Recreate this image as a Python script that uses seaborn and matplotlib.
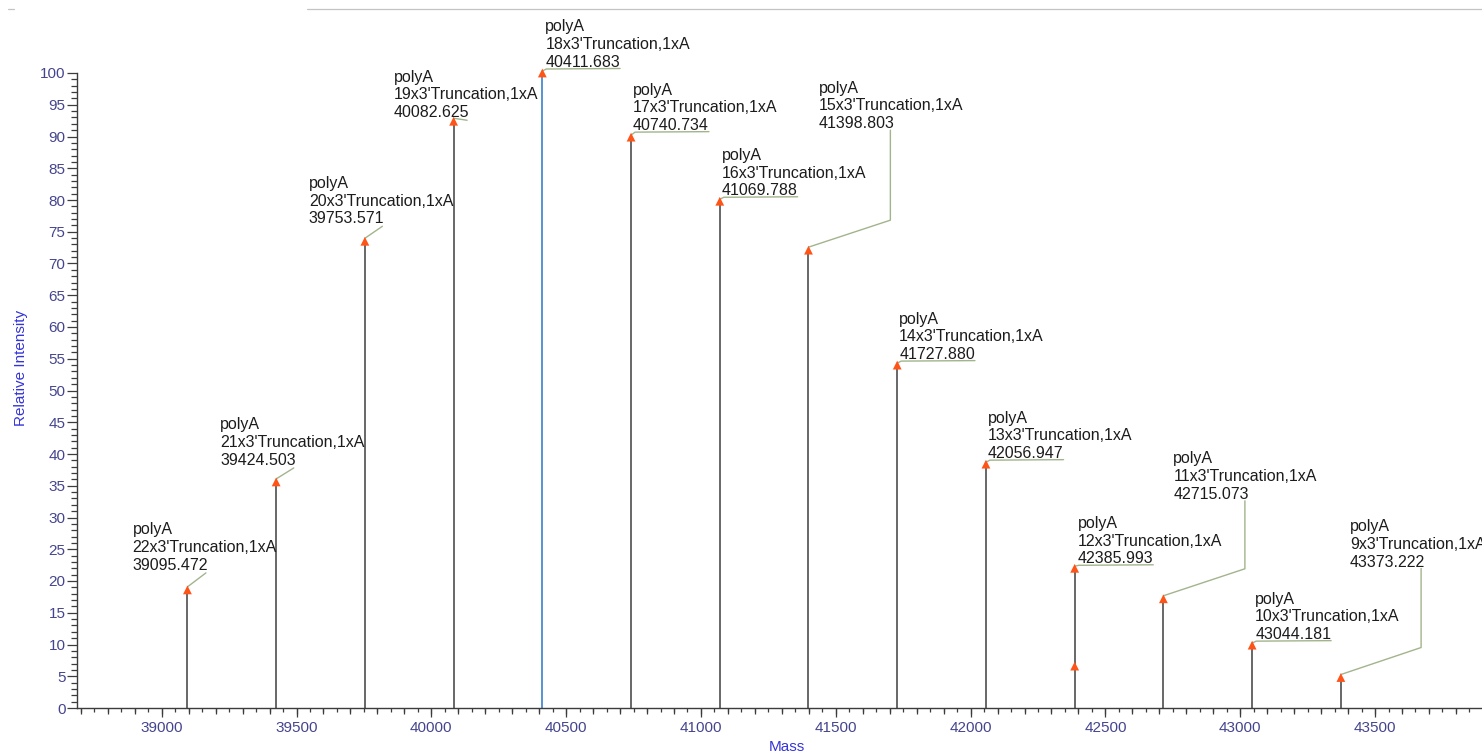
import matplotlib
matplotlib.use("Agg")
import matplotlib.pyplot as plt
from matplotlib.lines import Line2D
from matplotlib.ticker import MultipleLocator, NullFormatter
import numpy as np
import pandas as pd
import seaborn as sns

# Deconvoluted masses of the polyA 3'-truncation ladder and their relative intensities
masses = [39095.472, 39424.503, 39753.571, 40082.625, 40411.683, 40740.734, 41069.788,
          41398.803, 41727.880, 42056.947, 42385.993, 42715.073, 43044.181, 43373.222]
intensities = [18.6, 35.6, 73.5, 92.4, 100.0, 89.9, 79.8, 72.1, 54.0, 38.4, 22.0, 17.2, 9.9, 4.8]
truncations = [22, 21, 20, 19, 18, 17, 16, 15, 14, 13, 12, 11, 10, 9]
modification = "polyA"
base_peak = 40411.683

# Second (unlabelled) component sitting on the 42385.993 stem
extra_masses = [42385.993]
extra_intensities = [6.6]

# Label placement in pixels relative to the marker: (dx to text left, rise to text baseline, leader style)
label_layout = [(-55, 20, "short"), (-56, 17, "short"), (-56, 18, "short"), (-60, 4, "short"),
                (3, 6, "under"), (2, 7, "under"), (2, 6, "under"), (10, 122, "elbow"),
                (2, 6, "under"), (2, 6, "under"), (3, 5, "under"), (10, 100, "elbow"),
                (3, 6, "under"), (9, 111, "elbow")]

STEM = "#5c5c5c"
BASE = "#4a8ad0"
MARK = "#ff5418"
LEAD = "#a2b48c"
TICKTXT = "#45458f"
AXLABEL = "#3434d8"
SPINE = "#3c3c3c"
LABEL_SIZE = 11.5

sns.set_theme(style="ticks")
plt.rcParams["font.family"] = ["Liberation Sans", "DejaVu Sans"]

W, H = 1482, 752
fig = plt.figure(figsize=(W / 100, H / 100), dpi=100)
ax = fig.add_axes([77 / W, 44 / H, 1405 / W, 635 / H])

peaks = pd.DataFrame({"mass": masses, "intensity": intensities, "trunc": truncations})
extra = pd.DataFrame({"mass": extra_masses, "intensity": extra_intensities})

# Stick spectrum
stem_colors = [BASE if m == base_peak else STEM for m in peaks["mass"]]
ax.vlines(peaks["mass"], 0, peaks["intensity"], colors=stem_colors, lw=1.3, zorder=2)

# Peak-top markers
for d in (peaks, extra):
    sns.scatterplot(data=d, x="mass", y="intensity", marker="^", s=40, color=MARK,
                    edgecolor="none", linewidth=0, ax=ax, zorder=4, clip_on=False, legend=False)

ax.set_xlim(38685.9, 43896.7)
ax.set_ylim(0, 100)

# Axes styling
for side in ("top", "right"):
    ax.spines[side].set_visible(False)
for side in ("left", "bottom"):
    ax.spines[side].set_color(SPINE)
    ax.spines[side].set_linewidth(1.0)

ax.xaxis.set_major_locator(MultipleLocator(500))
ax.xaxis.set_minor_locator(MultipleLocator(50))
ax.yaxis.set_major_locator(MultipleLocator(5))
ax.yaxis.set_minor_locator(MultipleLocator(1))
ax.tick_params(axis="x", which="major", length=6.5, width=0.9, pad=2.5, color=SPINE,
               labelsize=11, labelcolor=TICKTXT)
ax.tick_params(axis="x", which="minor", length=2.9, width=0.9, color=SPINE)
ax.tick_params(axis="y", which="major", length=7.2, width=0.9, pad=1.0, color=SPINE,
               labelsize=11, labelcolor=TICKTXT)
ax.tick_params(axis="y", which="minor", length=4.0, width=0.9, color=SPINE)

# Intermediate 100-Da ticks
sec = ax.secondary_xaxis("bottom")
sec.xaxis.set_major_locator(MultipleLocator(100))
sec.xaxis.set_major_formatter(NullFormatter())
sec.tick_params(axis="x", which="major", length=4.6, width=0.9, color=SPINE)
sec.tick_params(axis="x", which="minor", length=0)
sec.spines["bottom"].set_visible(False)

ax.set_xlabel("Mass", fontsize=11, color=AXLABEL)
ax.xaxis.set_label_coords(0.505, -0.0504)
ax.set_ylabel("Relative Intensity", fontsize=11, color=AXLABEL)
ax.yaxis.set_label_coords(-0.035, 0.535)

# Peak annotations
DESC = 3.0
anns = []
for (m, h, n), (dx, rise, kind) in zip(peaks[["mass", "intensity", "trunc"]].itertuples(index=False),
                                       label_layout):
    mass_txt = f"{m:.3f}"
    t = ax.annotate(f"{modification}\n{n}x3'Truncation,1xA\n{mass_txt}", xy=(m, h),
                    xytext=(dx, rise - DESC), textcoords="offset pixels",
                    ha="left", va="bottom", fontsize=LABEL_SIZE, color="#1c1c1c",
                    linespacing=1.23, annotation_clip=False, zorder=5)
    anns.append((t, mass_txt, m, h, kind))

fig.canvas.draw()
renderer = fig.canvas.get_renderer()
inv = ax.transData.inverted()
for t, mass_txt, m, h, kind in anns:
    bb = t.get_window_extent(renderer)
    w_mass, _, _ = renderer.get_text_width_height_descent(mass_txt, t.get_fontproperties(),
                                                          ismath=False)
    x_end = bb.x0 + w_mass
    mx, my = ax.transData.transform((m, h))
    yb = bb.y0 + DESC
    if kind == "under":
        pts = [(mx, my + 2), (mx + 4, yb - 2), (x_end, yb - 1.5)]
    elif kind == "short":
        pts = [(mx, my + 3), (x_end - 2, yb - 3)]
    else:
        pts = [(mx, my + 3), (x_end - 4, my + 30), (x_end - 4, yb - 2)]
    dpts = inv.transform(np.array(pts))
    ax.plot(dpts[:, 0], dpts[:, 1], color=LEAD, lw=1.0, clip_on=False, zorder=3)

# Thin rule along the top edge of the page
fig.add_artist(Line2D([307 / W, 1.0], [1 - 9 / H] * 2, transform=fig.transFigure,
                      color="#c4c4c4", lw=0.9))
fig.add_artist(Line2D([8 / W, 14 / W], [1 - 9 / H] * 2, transform=fig.transFigure,
                      color="#c4c4c4", lw=0.9))

fig.savefig("out.png", dpi=100)
